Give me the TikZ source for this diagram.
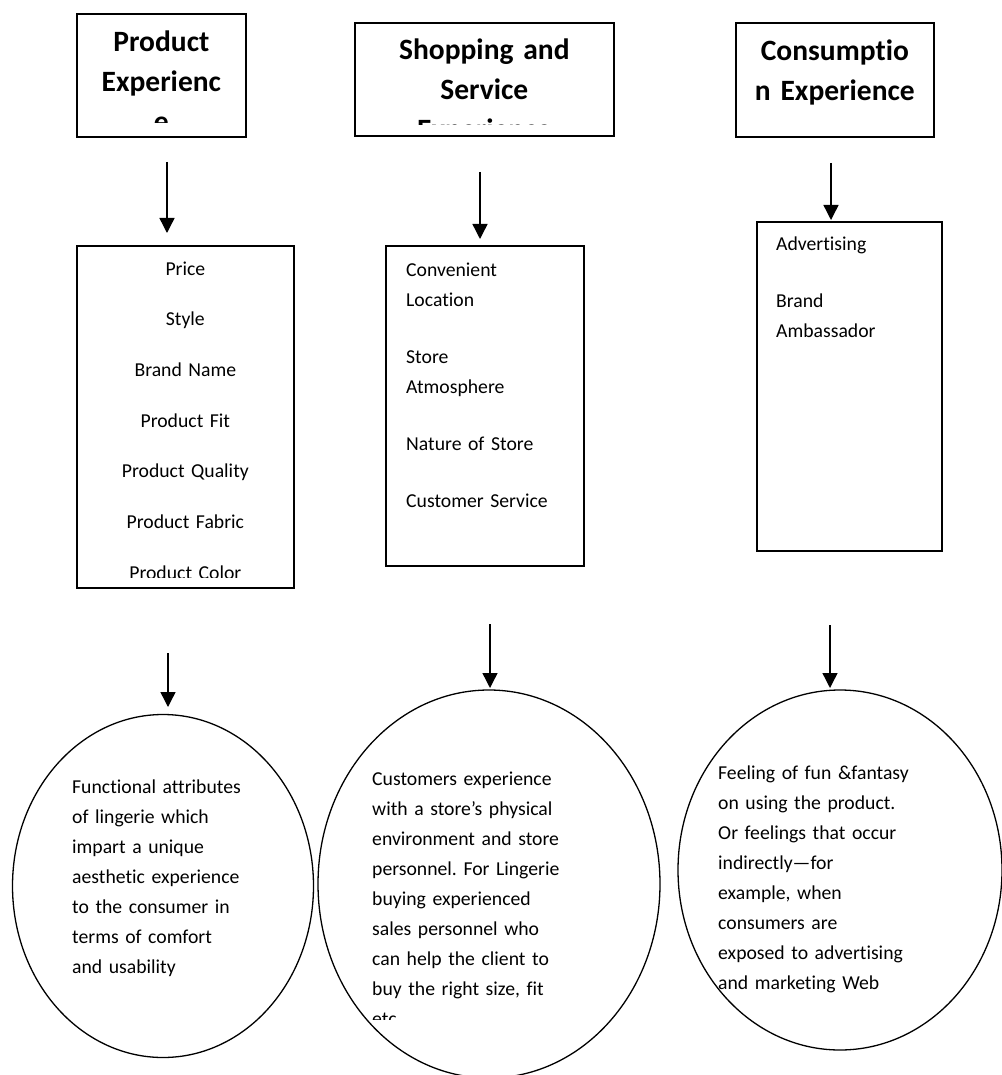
\documentclass[tikz,border=0pt]{standalone}
\usepackage{fontspec}
\setmainfont{Carlito}[Ligatures=NoCommon]
\frenchspacing
\usetikzlibrary{arrows.meta,shapes.geometric}
\begin{document}
\begin{tikzpicture}[x=1pt,y=-1pt,
  box/.style={draw,line width=1.7pt,inner sep=0,anchor=north west},
  oval/.style={draw,ellipse,line width=1.3pt,inner sep=0},
  arr/.style={line width=1.4pt,-{Triangle[length=15pt,width=15pt]}},
  head/.style={font=\fontsize{29.5}{40}\selectfont\bfseries,inner sep=0,anchor=base,align=center,text width=#1},
  mid/.style={font=\fontsize{19.7}{50.7}\selectfont,inner sep=0,anchor=base,align=center,text width=#1},
  body/.style={font=\fontsize{19.7}{30}\selectfont,inner sep=0,anchor=base west,align=left,text width=300}]
\fill[white] (0,0) rectangle (1001,1075);
\useasboundingbox (0,0) rectangle (1001,1075);
% top boxes
\node[box,minimum width=169,minimum height=123] (prodhead) at (76,13) {};
\node[box,minimum width=259,minimum height=113] (shophead) at (354,22) {};
\node[box,minimum width=198,minimum height=114] (conshead) at (735,22) {};
\begin{scope}
\clip (prodhead.north west) rectangle ([yshift=15pt]prodhead.south east);
\node[head=169] (prodtitle) at (prodhead.center |- 0,52) {Product\\Experienc\\e};
\end{scope}
\begin{scope}
\clip (shophead.north west) rectangle ([yshift=12.5pt]shophead.south east);
\node[head=259] (shoptitle) at (shophead.center |- 0,60) {Shopping and\\Service\\Experience};
\end{scope}
\node[head=198] (constitle) at (conshead.center |- 0,61) {Consumptio\\n Experience};
% factor boxes
\node[box,minimum width=217,minimum height=342] (prodlist) at (76,245) {};
\node[box,minimum width=198,minimum height=320] (shoplist) at (385,245) {};
\node[box,minimum width=185,minimum height=329] (conslist) at (756,221) {};
\begin{scope}
\clip (prodlist.north west) rectangle ([yshift=11pt]prodlist.south east);
\node[mid=217] (prodtext) at (prodlist.center |- 0,275) {Price\\Style\\Brand Name\\Product Fit\\Product Quality\\Product Fabric\\Product Color};
\end{scope}
\node[body] (shoptext) at (406,276) {Convenient\\Location\\[27pt]Store\\Atmosphere\\[27pt]Nature of Store\\[27pt]Customer Service};
\node[body] (constext) at (776,251) {Advertising\\[27pt]Brand\\Ambassador};
% outcome ovals
\node[oval,minimum width=301,minimum height=343] (prodoval) at (163,886) {};
\node[oval,minimum width=342,minimum height=388] (shopoval) at (489,884) {};
\node[oval,minimum width=324,minimum height=360] (consoval) at (840,870) {};
\node[body] (prodnote) at (72,793) {Functional attributes\\of lingerie which\\impart a unique\\aesthetic experience\\to the consumer in\\terms of comfort\\and usability};
\begin{scope}
\clip (300,700) rectangle (700,1019);
\node[body] (shopnote) at (372,785) {Customers experience\\with a store’s physical\\environment and store\\personnel. For Lingerie\\buying experienced\\sales personnel who\\can help the client to\\buy the right size, fit\\etc};
\end{scope}
\node[body] (consnote) at (718,779) {Feeling of fun \&fantasy\\on using the product.\\Or feelings that occur\\indirectly—for\\example, when\\consumers are\\exposed to advertising\\and marketing Web};
% arrows
\foreach \n/\x/\a/\b in {1/167/162/233,2/480/172/239,3/831/163/220,4/168/653/707,5/490/624/688,6/830/625/688}
{
  \coordinate (from\n) at (\x,\a);
  \coordinate (to\n) at (\x,\b);
  \draw[arr] (from\n) -- (to\n);
}
\end{tikzpicture}
\end{document}
